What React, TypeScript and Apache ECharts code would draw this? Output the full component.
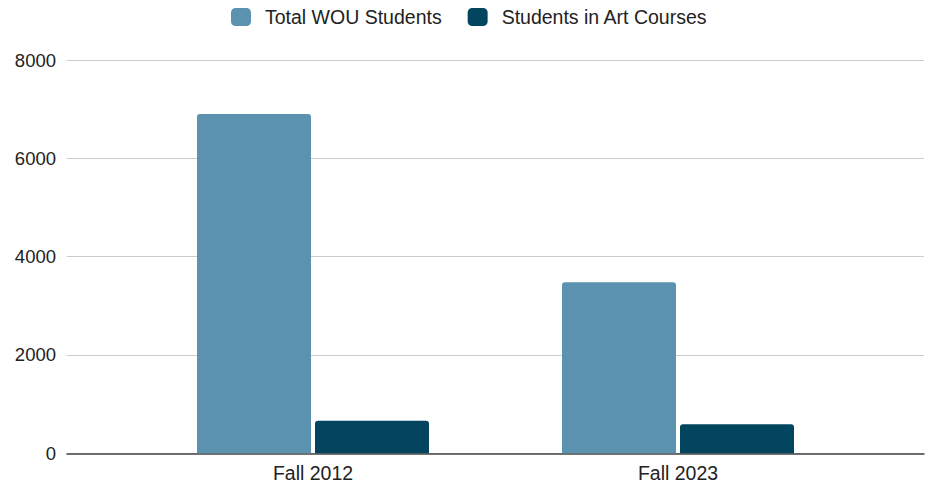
import React, { useEffect, useRef } from "react";
import * as echarts from "echarts";

const categories = ["Fall 2012", "Fall 2023"];
const totalStudents = [6900, 3480];
const artStudents = [660, 590];
const seriesNames = ["Total WOU Students", "Students in Art Courses"];
const yTicks = { min: 0, max: 8000, interval: 2000 };

const FONT = "'Liberation Sans', Arial, sans-serif";

export default function App() {
  const ref = useRef<HTMLDivElement>(null);
  useEffect(() => {
    if (!ref.current) return;
    const chart = echarts.init(ref.current, undefined, { renderer: "svg" });
    chart.setOption({
      animation: false,
      textStyle: { fontFamily: FONT },
      legend: {
        top: 7,
        left: 231,
        itemWidth: 20,
        itemHeight: 18,
        itemGap: 26,
        icon: "roundRect",
        padding: 0,
        textStyle: { fontSize: 19.5, color: "#222", fontFamily: FONT, padding: [0, 0, 0, 9] },
        data: seriesNames,
      },
      grid: [
        { left: 67, right: 5, top: 60, bottom: 31.7 },
        { left: 130.5, right: 68.5, top: 60, bottom: 31.7 },
      ],
      xAxis: [
        {
          gridIndex: 0,
          type: "value",
          min: 0,
          max: 1,
          axisLine: { show: true, lineStyle: { color: "#444", width: 1.5 } },
          axisTick: { show: false },
          axisLabel: { show: false },
          splitLine: { show: false },
        },
        {
          gridIndex: 1,
          type: "category",
          data: categories,
          axisLine: { show: false },
          axisTick: { show: false },
          axisLabel: { fontSize: 19.5, color: "#222", margin: 10, fontFamily: FONT },
        },
      ],
      yAxis: [
        {
          gridIndex: 0,
          type: "value",
          min: yTicks.min,
          max: yTicks.max,
          interval: yTicks.interval,
          axisLine: { show: false },
          axisTick: { show: false },
          axisLabel: {
            fontSize: 18.5,
            color: "#222",
            margin: 11,
            fontFamily: FONT,
            formatter: (v: number) => String(v),
          },
          splitLine: { lineStyle: { color: "#cccccc", width: 1 } },
        },
        {
          gridIndex: 1,
          type: "value",
          min: yTicks.min,
          max: yTicks.max,
          show: false,
          splitLine: { show: false },
        },
      ],
      series: [
        {
          name: seriesNames[0],
          type: "bar",
          xAxisIndex: 1,
          yAxisIndex: 1,
          data: totalStudents,
          barWidth: 114,
          barGap: "3.5%",
          itemStyle: { color: "#5B92AF", borderRadius: [3, 3, 0, 0] },
        },
        {
          name: seriesNames[1],
          type: "bar",
          xAxisIndex: 1,
          yAxisIndex: 1,
          data: artStudents,
          barWidth: 114,
          barGap: "3.5%",
          itemStyle: { color: "#03455F", borderRadius: [3, 3, 0, 0] },
        },
      ],
    });
    return () => chart.dispose();
  }, []);
  return <div ref={ref} style={{ width: 929, height: 485, position: "absolute", left: 0, top: 0 }} />;
}
